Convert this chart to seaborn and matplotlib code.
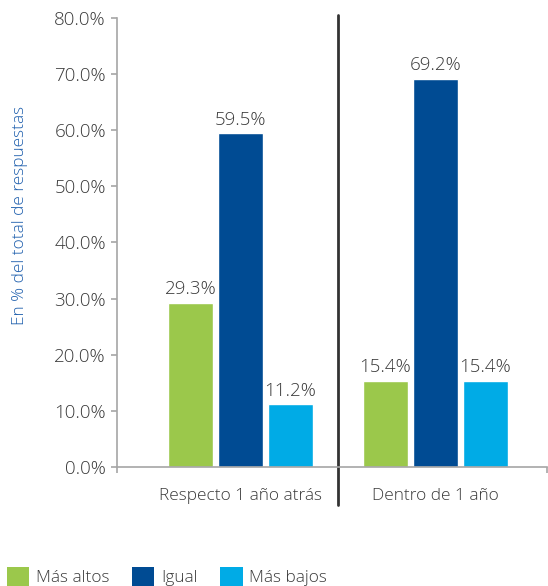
import matplotlib
matplotlib.use("Agg")
import matplotlib.pyplot as plt
import seaborn as sns
import pandas as pd
from matplotlib.patches import Patch

categories = ["Respecto 1 año atrás", "Dentro de 1 año"]
series = ["Más altos", "Igual", "Más bajos"]
mas_altos = [29.3, 15.4]
igual = [59.5, 69.2]
mas_bajos = [11.2, 15.4]
colors = ["#9BC84B", "#004B93", "#00ABE6"]
yticks = [0, 10, 20, 30, 40, 50, 60, 70, 80]

rows = []
for s, vals in zip(series, [mas_altos, igual, mas_bajos]):
    for c, v in zip(categories, vals):
        rows.append({"cat": c, "serie": s, "val": v})
df = pd.DataFrame(rows)

sns.set_theme(style="white")
plt.rcParams["font.family"] = ["Open Sans", "DejaVu Sans"]
plt.rcParams["font.weight"] = "light"
txt = "#3A3A3A"
axc = "#A6A6A6"
fs = 12.4
fsn = 13.5

W, H = 548, 586
fig = plt.figure(figsize=(W / 100, H / 100), dpi=100)
L, R, T, B = 117, 547, 18, 467
ax = fig.add_axes([L / W, 1 - B / H, (R - L) / W, (B - T) / H])

sns.barplot(data=df, x="cat", y="val", hue="serie", order=categories,
            hue_order=series, palette=colors, width=0.769, gap=0.1,
            saturation=1, ax=ax, legend=False, errorbar=None)

for cont in ax.containers:
    ax.bar_label(cont, labels=[f"{v:.1f}%" for v in cont.datavalues],
                 padding=3, fontsize=fsn, color=txt, fontweight="light")

ax.set_ylim(0, 80)
ax.set_xlim(-0.633, 1.572)
ax.set_yticks(yticks)
ax.set_yticklabels([f"{v:.1f}%" for v in yticks], fontsize=fsn, color=txt, fontweight="light")
ax.set_xticks([0, 1])
ax.set_xticklabels(categories, fontsize=fs, color=txt, fontweight="light")
ax.tick_params(axis="x", length=0, pad=15)
ax.set_xticks([-0.633, 1.572], minor=True)
ax.tick_params(axis="x", which="minor", length=4, width=1.2, color=axc, direction="out", bottom=True)
ax.tick_params(axis="y", length=4, width=1.2, color=axc, direction="out", left=True, pad=4)
ax.set_xlabel("")
ax.set_ylabel("")

for s in ["top", "right"]:
    ax.spines[s].set_visible(False)
for s in ["left", "bottom"]:
    ax.spines[s].set_color(axc)
    ax.spines[s].set_linewidth(1.2)

ax.axvline(0.5, ymin=(B - 505) / (B - T), ymax=(B - 15) / (B - T),
           color="#333333", lw=2, clip_on=False)

fig.text(20 / W, 1 - 215 / H, "En % del total de respuestas", rotation=90,
         ha="center", va="center", fontsize=fs, color="#1F5FAD", fontweight="light")

handles = [Patch(facecolor=c, edgecolor="none", label=s) for c, s in zip(colors, series)]
fig.legend(handles=handles, loc="lower left", bbox_to_anchor=(0.0, -0.012), ncol=3,
           frameon=False, handlelength=1.3, handleheight=1.3,
           handletextpad=0.4, columnspacing=1.3, labelcolor=txt, borderaxespad=0.0,
           prop={"weight": "light", "size": fs})

fig.savefig("out.png", dpi=100)
